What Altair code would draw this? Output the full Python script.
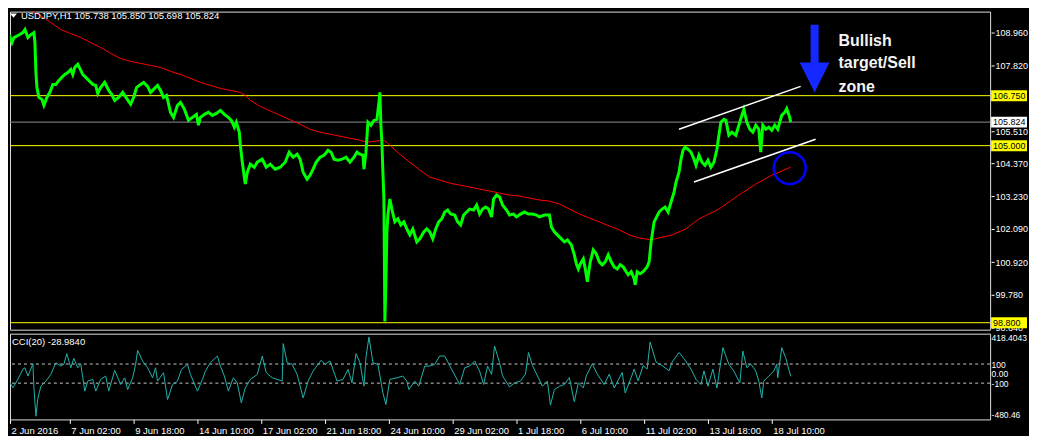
import json
import altair as alt
import pandas as pd

# ---------------- data ----------------
# USDJPY H1 closes (bar index, price)
price_bar = [0, 3, 6, 8, 12, 17, 19, 22, 25, 28, 29, 30, 31, 33, 36, 38, 41, 44, 47, 50,
             53, 56, 59, 62, 65, 67, 69, 72, 75, 77, 80, 83, 87, 90, 92, 95, 99, 103, 106, 109,
             113, 117, 121, 125, 128, 131, 135, 138, 142, 145, 149, 152, 155, 158, 161, 165, 168, 172, 175, 179,
             183, 187, 191, 193, 195, 199, 203, 207, 211, 215, 219, 223, 226, 229, 231, 234, 235, 237, 239, 240,
             242, 245, 249, 252, 257, 261, 265, 270, 275, 280, 284, 288, 292, 295, 298, 302, 305, 308, 311, 315,
             319, 323, 326, 329, 333, 337, 341, 345, 349, 352, 355, 358, 359, 361, 363, 366, 369, 372, 374, 375,
             376, 377, 378, 379, 380, 381, 382, 383, 385, 387, 390, 393, 396, 399, 402, 405, 408, 412, 415, 419,
             422, 425, 428, 431, 434, 437, 440, 443, 446, 450, 453, 456, 459, 462, 465, 469, 472, 475, 478, 481,
             484, 487, 489, 492, 495, 498, 502, 505, 509, 512, 516, 520, 524, 528, 532, 535, 540, 545, 547, 550,
             553, 557, 560, 563, 567, 570, 572, 574, 576, 579, 581, 583, 586, 589, 592, 595, 598, 601, 604, 607,
             610, 613, 616, 619, 622, 624, 627, 630, 631, 633, 636, 639, 643, 645, 647, 650, 655, 658, 661, 664,
             667, 670, 672, 675, 677, 679, 681, 684, 687, 690, 692, 695, 698, 701, 704, 707, 710, 713, 715, 717,
             720, 722, 725, 728, 732, 735, 738, 740, 743, 746, 749, 752, 755, 757, 759, 762, 765, 768, 771, 774,
             776, 778, 781, 783, 786, 787]
price_close = [108.96, 108.89, 108.61, 108.785, 108.855, 108.96, 109.065, 108.785, 108.89, 108.96, 108.61, 107.56, 107.04, 106.69, 106.62, 106.41, 106.69, 106.865, 107.145, 107.145,
               107.285, 107.39, 107.49, 107.56, 107.67, 107.49, 107.74, 107.845, 107.635, 107.49, 107.39, 107.285, 107.145, 107.11, 106.83, 107.04, 107.215, 106.935, 106.795, 106.585,
               106.69, 106.865, 106.655, 106.45, 106.69, 107.04, 107.145, 107.215, 107.075, 106.865, 107.005, 107.11, 106.935, 106.69, 106.76, 106.165, 105.99, 106.41, 106.515, 106.27,
               105.885, 105.99, 106.095, 105.715, 105.99, 106.095, 106.165, 106.06, 106.13, 106.235, 106.095, 105.99, 105.885, 105.645, 105.82, 105.47, 105.015, 104.42, 103.895, 103.655,
               104.07, 104.35, 104.245, 104.42, 104.525, 104.245, 104.35, 104.175, 104.245, 104.42, 104.77, 104.595, 104.70, 104.525, 104.07, 103.825, 103.965, 104.175, 104.42, 104.595,
               104.665, 104.84, 104.77, 104.525, 104.49, 104.525, 104.595, 104.42, 104.595, 104.77, 104.70, 104.665, 104.175, 104.77, 105.82, 105.715, 105.885, 105.92, 106.515, 106.865,
               105.715, 105.12, 104.07, 103.13, 98.84, 100.235, 101.98, 102.57, 103.13, 102.78, 102.33, 102.435, 102.225, 102.33, 102.085, 101.875, 102.085, 101.63, 101.735, 101.98,
               102.085, 101.98, 101.735, 102.085, 102.33, 102.435, 102.675, 102.745, 102.605, 102.57, 102.33, 102.225, 102.57, 102.675, 102.78, 102.745, 102.92, 102.605, 102.78, 102.85,
               102.78, 102.505, 103.13, 103.27, 103.20, 102.92, 102.745, 102.57, 102.605, 102.505, 102.605, 102.675, 102.605, 102.605, 102.57, 102.505, 102.57, 102.57, 102.155, 101.98,
               101.875, 101.735, 101.63, 101.70, 101.525, 101.175, 100.86, 100.685, 100.86, 101.035, 100.685, 100.235, 100.93, 101.35, 101.21, 100.93, 100.825, 100.93, 101.175, 100.93,
               100.755, 100.685, 100.825, 100.755, 100.585, 100.48, 100.585, 100.34, 100.13, 100.585, 100.515, 100.585, 100.755, 100.93, 101.63, 102.33, 102.675, 102.78, 102.85, 102.675,
               103.025, 103.375, 103.725, 104.07, 104.525, 104.84, 104.945, 104.875, 104.77, 104.525, 104.315, 104.665, 104.42, 104.315, 104.49, 104.245, 104.42, 104.875, 105.365, 105.82,
               105.92, 105.885, 105.365, 105.47, 105.365, 105.715, 106.06, 106.27, 105.82, 105.575, 105.47, 105.715, 105.575, 104.77, 105.715, 105.575, 105.645, 105.54, 105.715, 105.575,
               105.82, 106.06, 106.165, 106.30, 105.99, 105.824]

# red moving average
ma_bar = [20, 35, 45, 55, 65, 75, 85, 95, 105, 115, 125, 135, 145, 155, 165, 175, 185, 195, 205, 215,
          225, 235, 240, 245, 255, 275, 295, 305, 315, 325, 335, 345, 355, 362, 370, 378, 382, 387, 395, 405,
          415, 425, 435, 445, 455, 465, 475, 485, 495, 505, 515, 525, 535, 545, 555, 565, 575, 585, 595, 605,
          615, 625, 635, 647, 655, 668, 682, 695, 715, 735, 752, 768, 787]
ma_value = [109.83, 109.55, 109.31, 109.065, 108.925, 108.785, 108.61, 108.435, 108.23, 108.05, 107.95, 107.88, 107.81, 107.74, 107.60, 107.495, 107.355, 107.215, 107.11, 107.005,
            106.935, 106.865, 106.76, 106.585, 106.375, 106.06, 105.75, 105.575, 105.47, 105.40, 105.33, 105.26, 105.19, 105.12, 105.155, 105.19, 105.12, 104.945, 104.70, 104.42,
            104.145, 103.90, 103.795, 103.69, 103.62, 103.55, 103.48, 103.41, 103.34, 103.27, 103.235, 103.165, 103.095, 103.06, 102.955, 102.78, 102.605, 102.465, 102.33, 102.19,
            102.05, 101.875, 101.77, 101.70, 101.77, 101.875, 102.085, 102.435, 102.78, 103.27, 103.655, 103.965, 104.245]

# CCI(20)
cci_bar = [0, 3, 7, 12, 17, 19, 22, 27, 28, 30, 32, 35, 40, 45, 50, 55, 58, 61, 65, 68,
           72, 75, 79, 82, 87, 90, 95, 100, 103, 109, 115, 119, 122, 127, 130, 132, 137, 142, 147, 150,
           152, 158, 162, 167, 172, 176, 182, 185, 192, 197, 200, 205, 212, 215, 219, 223, 228, 232, 236, 240,
           245, 252, 257, 261, 267, 277, 278, 282, 287, 292, 298, 303, 308, 316, 320, 325, 332, 338, 343, 347,
           351, 355, 359, 361, 364, 368, 373, 378, 381, 385, 392, 398, 402, 404, 410, 414, 420, 425, 430, 435,
           440, 447, 455, 460, 465, 470, 475, 479, 483, 487, 490, 495, 498, 505, 510, 516, 521, 524, 528, 533,
           538, 543, 546, 550, 555, 560, 565, 570, 574, 579, 582, 588, 593, 600, 605, 610, 618, 621, 627, 630,
           634, 639, 643, 646, 652, 658, 665, 668, 675, 680, 687, 692, 697, 700, 704, 709, 713, 719, 725, 730,
           736, 739, 743, 747, 752, 755, 758, 760, 765, 770, 773, 774, 778, 782, 787]
cci_value = [-97, -79, -149, -58, 47, 61, -26, 103, -149, -447, -255, -132, -79, -9, 114, 79, 97, 209, 61, 160,
             61, 97, -184, -79, -61, -184, -61, -26, -184, 34, -114, -44, -167, -44, 97, 244, 132, 61, -44, 61,
             -79, 9, -272, -114, -79, 44, 97, -9, -184, -61, 26, 114, 184, 79, -26, -184, -44, -97, -307, -149,
             -61, -9, 184, 9, -44, -79, 314, 114, 97, -9, -255, -79, 26, 139, 97, 132, -79, -61, 44, -97,
             209, 114, -132, 167, 384, 114, 97, -202, -324, -61, -44, -26, -79, -167, -79, -132, 79, 79, 97, 184,
             184, 44, -114, 61, 79, 132, 26, -114, 79, -9, 289, 114, -24, -140, -97, -78, -6, 221, 84, -24,
             -133, -78, -331, -168, -133, -115, -42, -295, -97, -151, -24, 102, -6, -115, -6, -151, 12, -204, -42, 47,
             -78, 84, 47, 330, 120, 84, 29, 120, 221, 156, 47, -60, -115, 29, -133, 47, -151, 272, 97, 26,
             -97, 237, 61, 100, 26, -79, -255, -79, -26, 26, 100, -44, 272, 166, -29]

x_tick_bars = [0, 64, 128, 192, 256, 320, 384, 448, 512, 576, 640, 704, 768]
x_tick_labels = ["2 Jun 2016", "7 Jun 02:00", "9 Jun 18:00", "14 Jun 10:00", "17 Jun 02:00",
                 "21 Jun 18:00", "24 Jun 10:00", "29 Jun 02:00", "1 Jul 18:00", "6 Jul 10:00",
                 "11 Jul 02:00", "13 Jul 18:00", "18 Jul 10:00"]
price_ticks = [108.96, 107.82, 105.51, 104.37, 103.23, 102.09, 100.92, 99.78, 98.64]
level_prices = [106.75, 105.0, 98.8]
bid_prices = [105.824]
cci_levels = [100, -100]
cci_ticks = [418.4043, 100, 0, -100, -480.46]
cci_tick_labels = ["418.4043", "100", "0.00", "-100", "-480.46"]

channel_id = ["upper", "upper", "lower", "lower"]
channel_bar = [675, 797, 690, 812]
channel_price = [105.575, 107.075, 103.725, 105.225]

note_lines = ["Bullish", "target/Sell", "zone"]
note_bar = [835, 835, 835]
note_price = [108.496, 107.714, 106.866]

arrow_bar = [811]
arrow_price = [108.05]
circle_bar = [786]
circle_price = [104.21]

header_text = ["USDJPY,H1  105.738 105.850 105.698 105.824"]
cci_header_text = ["CCI(20) -28.9840"]

# ---------------- layout / scales ----------------
W = 983
H_MAIN = 319
H_CCI = 86
X_DOMAIN = [4, 987]
FONT = "Liberation Sans"
FS = 9.5
FS_R = 9

xs = alt.Scale(domain=X_DOMAIN, nice=False, zero=False)
ys = alt.Scale(domain=[98.556, 109.693], nice=False, zero=False)
cys = alt.Scale(domain=[-480.46, 418.4043], nice=False, zero=False)

price_axis = alt.Axis(orient="right", values=price_ticks, format=".3f", tickSize=3,
                      tickColor="#ffffff", offset=1, domain=False, grid=False,
                      labelColor="#ffffff", labelPadding=1, labelFontSize=FS_R, labelFont=FONT,
                      labelOverlap=False, labelFlush=False, title=None)

x_axis_values = [max(b, X_DOMAIN[0]) for b in x_tick_bars]
x_label_expr = f"{json.dumps(x_tick_labels)}[indexof({json.dumps(x_axis_values)}, datum.value)]"
x_axis = alt.Axis(orient="bottom", values=x_axis_values, labelExpr=x_label_expr, tickSize=4,
                  tickColor="#ffffff", domain=False, grid=False, labelColor="#ffffff",
                  labelAlign="left", labelBaseline="top", labelPadding=2, labelOffset=1,
                  labelFontSize=FS, labelFont=FONT, labelOverlap=False, labelFlush=False,
                  title=None)

cci_label_expr = f"{json.dumps(cci_tick_labels)}[indexof({json.dumps(cci_ticks)}, datum.value)]"
cci_axis = alt.Axis(orient="right", values=cci_ticks, labelExpr=cci_label_expr, ticks=False,
                    domain=False, grid=False, labelColor="#ffffff", labelPadding=1,
                    labelFontSize=8.5, labelFont=FONT, labelOverlap=False, labelFlush=True,
                    title=None)

price_df = pd.DataFrame({"bar": price_bar, "close": price_close})
ma_df = pd.DataFrame({"bar": ma_bar, "ma": ma_value})
cci_df = pd.DataFrame({"bar": cci_bar, "cci": cci_value})
level_df = pd.DataFrame({"p": level_prices})
bid_df = pd.DataFrame({"p": bid_prices})
chan_df = pd.DataFrame({"id": channel_id, "bar": channel_bar, "p": channel_price})
note_df = pd.DataFrame({"t": note_lines, "bar": note_bar, "p": note_price})
arrow_df = pd.DataFrame({"bar": arrow_bar, "p": arrow_price})
circle_df = pd.DataFrame({"bar": circle_bar, "p": circle_price})
box_df = pd.DataFrame({"p": level_prices + bid_prices,
                       "kind": ["level"] * len(level_prices) + ["bid"] * len(bid_prices)})
header_df = pd.DataFrame({"t": header_text})
cci_header_df = pd.DataFrame({"t": cci_header_text})

def Y(field):
    return alt.Y(field, scale=ys, axis=price_axis)

def X(field):
    return alt.X(field, scale=xs, axis=None)

levels = alt.Chart(level_df).mark_rule(color="#ffff00", strokeWidth=1).encode(y=Y("p:Q"))
bid = alt.Chart(bid_df).mark_rule(color="#8c8c8c", strokeWidth=1).encode(y=Y("p:Q"))
ma_line = alt.Chart(ma_df).mark_line(color="#ff0000", strokeWidth=1, clip=True).encode(
    x=X("bar:Q"), y=Y("ma:Q"))
price_line = alt.Chart(price_df).mark_line(color="#00ff00", strokeWidth=3, clip=True,
                                           strokeJoin="miter").encode(x=X("bar:Q"), y=Y("close:Q"))
channel = alt.Chart(chan_df).mark_line(color="#ffffff", strokeWidth=1.5).encode(
    x=X("bar:Q"), y=Y("p:Q"), detail="id:N")
circle = alt.Chart(circle_df).mark_point(shape="circle", filled=False, size=1024, color="#0000ff",
                                         strokeWidth=2.5, opacity=1).encode(x=X("bar:Q"), y=Y("p:Q"))
arrow_path = "M-0.118,-1 L0.118,-1 L0.118,0.12 L0.44,0.12 L0,1 L-0.44,0.12 L-0.118,0.12 Z"
arrow = alt.Chart(arrow_df).mark_point(shape=arrow_path, filled=True, size=4624, color="#1428ff",
                                       opacity=1, strokeWidth=0).encode(x=X("bar:Q"), y=Y("p:Q"))
notes = alt.Chart(note_df).mark_text(align="left", baseline="alphabetic", font=FONT,
                                     fontWeight="bold", fontSize=16, color="#f4f4f4").encode(
    x=X("bar:Q"), y=Y("p:Q"), text="t:N")
boxes = alt.Chart(box_df).transform_calculate(
    lo="datum.p - 0.192", hi="datum.p + 0.192"
).mark_rect().encode(
    x=alt.value(984), x2=alt.value(1020), y=Y("lo:Q"), y2="hi:Q",
    color=alt.condition("datum.kind == 'bid'", alt.value("#ffffff"), alt.value("#ffff00")))
box_text = alt.Chart(box_df).mark_text(align="left", baseline="middle", font=FONT, fontSize=FS_R,
                                       color="#000000").encode(
    x=alt.value(986), y=Y("p:Q"), text=alt.Text("p:Q", format=".3f"))
header = alt.Chart(header_df).mark_text(align="left", baseline="alphabetic", font=FONT,
                                        fontSize=FS, color="#ffffff").encode(
    x=alt.value(11), y=alt.value(7), text="t:N")
tri = alt.Chart(header_df).mark_point(shape="M-1,-0.6L1,-0.6L0,0.6Z", filled=True, size=49,
                                      color="#ffffff", opacity=1).encode(
    x=alt.value(3.5), y=alt.value(4))

main = alt.layer(levels, bid, ma_line, price_line, channel, circle, arrow, notes,
                 boxes, box_text, header, tri).properties(width=W, height=H_MAIN)

def CY(field):
    return alt.Y(field, scale=cys, axis=cci_axis)

cci_lvl = alt.Chart(pd.DataFrame({"v": cci_levels})).mark_rule(
    color="#c8c8c8", strokeDash=[3, 3], strokeWidth=1).encode(y=CY("v:Q"))
cci_line = alt.Chart(cci_df).mark_line(color="#20b2aa", strokeWidth=1, clip=True).encode(
    x=alt.X("bar:Q", scale=xs, axis=x_axis), y=CY("cci:Q"))
cci_head = alt.Chart(cci_header_df).mark_text(align="left", baseline="alphabetic", font=FONT,
                                              fontSize=FS, color="#ffffff").encode(
    x=alt.value(2), y=alt.value(11), text="t:N")

cci = alt.layer(cci_lvl, cci_line, cci_head).properties(width=W, height=H_CCI)

chart = alt.vconcat(main, cci, spacing=4, bounds="flush").properties(
    padding={"left": 1, "top": 1, "right": 0, "bottom": 0},
    background="#000000",
).configure_view(stroke="#ffffff", strokeWidth=1).configure(font=FONT)

chart.save("out.html", embed_options={"renderer": "svg", "actions": False})
